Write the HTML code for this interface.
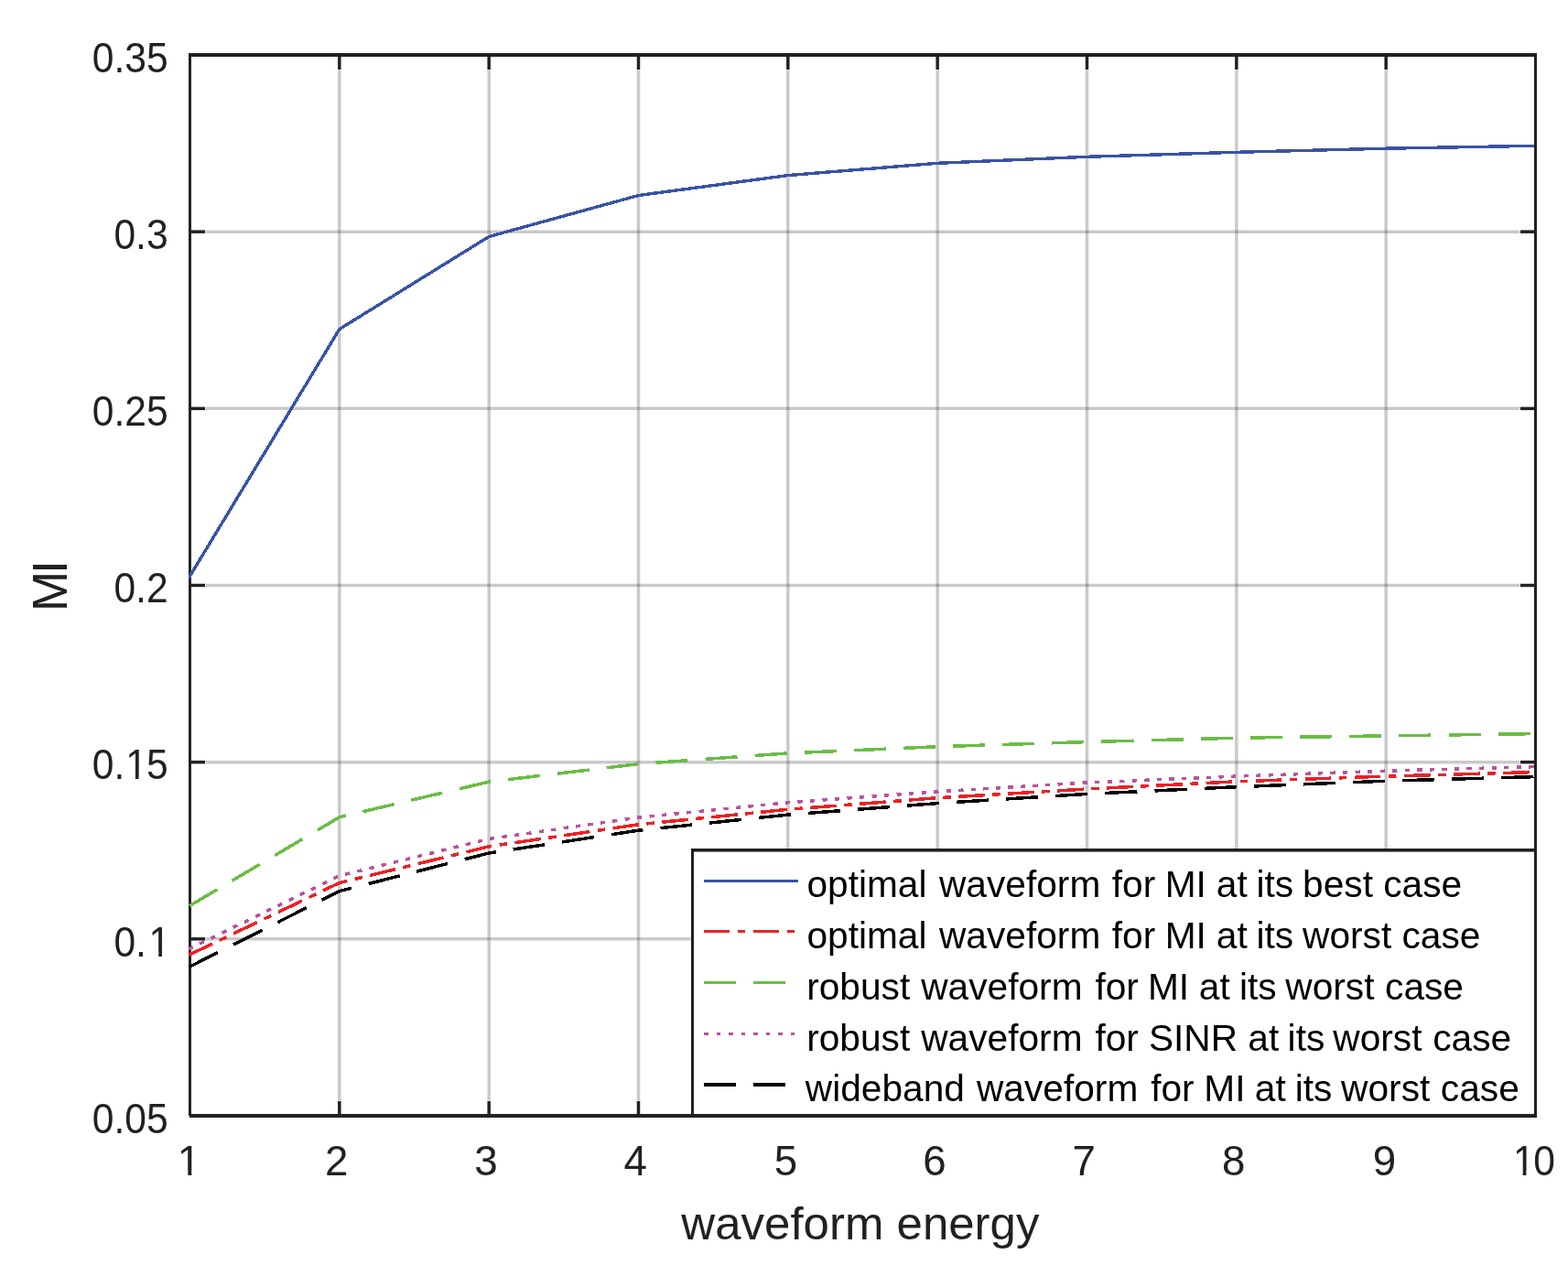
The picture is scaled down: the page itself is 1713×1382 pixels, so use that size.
<!DOCTYPE html>
<html lang="en"><head><meta charset="utf-8"><title>MI versus waveform energy</title>
<style>
html,body{margin:0;padding:0;background:#fff;}
body{width:1713px;height:1382px;overflow:hidden;}
svg{display:block;}
text{font-family:"Liberation Sans", Arial, Helvetica, sans-serif;}
.tick{font-size:45.7px;fill:#232021;}
.lab{font-size:50.2px;fill:#232021;}
.leg{font-size:40.66px;fill:#000;}
</style></head><body>
<svg width="1713" height="1382" viewBox="0 0 1713 1382">
<rect x="0" y="0" width="1713" height="1382" fill="#ffffff"/>
<g stroke="#231f20" stroke-opacity="0.235" stroke-width="3.5" fill="none">
<line x1="370.83" y1="76.5" x2="370.83" y2="1202.5"/>
<line x1="534.17" y1="76.5" x2="534.17" y2="1202.5"/>
<line x1="697.50" y1="76.5" x2="697.50" y2="1202.5"/>
<line x1="860.83" y1="76.5" x2="860.83" y2="1202.5"/>
<line x1="1024.17" y1="76.5" x2="1024.17" y2="1202.5"/>
<line x1="1187.50" y1="76.5" x2="1187.50" y2="1202.5"/>
<line x1="1350.83" y1="76.5" x2="1350.83" y2="1202.5"/>
<line x1="1514.17" y1="76.5" x2="1514.17" y2="1202.5"/>
<line x1="224.5" y1="1025.83" x2="1660.5" y2="1025.83"/>
<line x1="224.5" y1="832.67" x2="1660.5" y2="832.67"/>
<line x1="224.5" y1="639.50" x2="1660.5" y2="639.50"/>
<line x1="224.5" y1="446.33" x2="1660.5" y2="446.33"/>
<line x1="224.5" y1="253.17" x2="1660.5" y2="253.17"/>
</g>
<g fill="#232021" stroke="none">
<rect x="206" y="58" width="3" height="1161"/>
<rect x="1676" y="58" width="3" height="1163"/>
<rect x="206" y="58" width="1473" height="4"/>
<rect x="207" y="1217" width="1472" height="4"/>
</g>
<g stroke="#232021" stroke-width="3.5" fill="none">
<line x1="370.83" y1="1218" x2="370.83" y2="1203"/>
<line x1="370.83" y1="61" x2="370.83" y2="76"/>
<line x1="534.17" y1="1218" x2="534.17" y2="1203"/>
<line x1="534.17" y1="61" x2="534.17" y2="76"/>
<line x1="697.50" y1="1218" x2="697.50" y2="1203"/>
<line x1="697.50" y1="61" x2="697.50" y2="76"/>
<line x1="860.83" y1="1218" x2="860.83" y2="1203"/>
<line x1="860.83" y1="61" x2="860.83" y2="76"/>
<line x1="1024.17" y1="1218" x2="1024.17" y2="1203"/>
<line x1="1024.17" y1="61" x2="1024.17" y2="76"/>
<line x1="1187.50" y1="1218" x2="1187.50" y2="1203"/>
<line x1="1187.50" y1="61" x2="1187.50" y2="76"/>
<line x1="1350.83" y1="1218" x2="1350.83" y2="1203"/>
<line x1="1350.83" y1="61" x2="1350.83" y2="76"/>
<line x1="1514.17" y1="1218" x2="1514.17" y2="1203"/>
<line x1="1514.17" y1="61" x2="1514.17" y2="76"/>
</g>
<g stroke="#232021" stroke-width="3.5" fill="none">
<line x1="208" y1="1025.83" x2="224" y2="1025.83"/>
<line x1="1677" y1="1025.83" x2="1661" y2="1025.83"/>
<line x1="208" y1="832.67" x2="224" y2="832.67"/>
<line x1="1677" y1="832.67" x2="1661" y2="832.67"/>
<line x1="208" y1="639.50" x2="224" y2="639.50"/>
<line x1="1677" y1="639.50" x2="1661" y2="639.50"/>
<line x1="208" y1="446.33" x2="224" y2="446.33"/>
<line x1="1677" y1="446.33" x2="1661" y2="446.33"/>
<line x1="208" y1="253.17" x2="224" y2="253.17"/>
<line x1="1677" y1="253.17" x2="1661" y2="253.17"/>
</g>
<clipPath id="cp"><rect x="206" y="58" width="1470" height="1163"/></clipPath>
<g fill="none" stroke-linejoin="round" shape-rendering="crispEdges" clip-path="url(#cp)">
<polyline stroke="#3953a4" stroke-width="3.4" points="206.00,631.78 370.83,359.60 534.17,258.50 697.50,213.50 860.83,191.60 1024.17,178.30 1187.50,171.30 1350.83,166.30 1514.17,162.20 1679.00,159.27"/>
<polyline stroke="#ed2024" stroke-width="3.5" stroke-dasharray="28.6 8.52 8.52 8.52" stroke-dashoffset="-0.4" points="206.00,1043.52 370.83,964.50 534.17,924.80 697.50,900.80 860.83,884.30 1024.17,871.70 1187.50,862.00 1350.83,853.80 1514.17,848.10 1679.00,843.46"/>
<polyline stroke="#6abd45" stroke-width="3.5" stroke-dasharray="35.1 19.07" stroke-dashoffset="-1.2" points="206.00,990.29 370.83,892.80 534.17,854.10 697.50,834.60 860.83,822.90 1024.17,815.70 1187.50,810.60 1350.83,806.20 1514.17,803.90 1679.00,801.58"/>
<polyline stroke="#b9529f" stroke-width="3.5" stroke-dasharray="5.3 8.256" points="206.00,1037.03 370.83,956.80 534.17,916.50 697.50,893.10 860.83,876.80 1024.17,864.80 1187.50,855.00 1350.83,848.10 1514.17,842.20 1679.00,837.56"/>
<polyline stroke="#000000" stroke-width="3.5" stroke-dasharray="35.1 19.07" stroke-dashoffset="-0.75" points="206.00,1056.76 370.83,973.60 534.17,932.00 697.50,907.20 860.83,890.10 1024.17,877.60 1187.50,867.40 1350.83,859.70 1514.17,853.20 1679.00,848.56"/>
</g>
<text class="tick" transform="translate(100.79,1237.80) scale(0.931,1)">0.05</text>
<text class="tick" transform="translate(124.45,1044.63) scale(0.931,1)" dx="0.00 0.00 2.79">0.1</text>
<text class="tick" transform="translate(100.79,851.47) scale(0.931,1)" dx="0.00 0.00 0.97 -0.97">0.15</text>
<text class="tick" transform="translate(124.45,658.30) scale(0.931,1)">0.2</text>
<text class="tick" transform="translate(100.79,465.13) scale(0.931,1)">0.25</text>
<text class="tick" transform="translate(124.45,271.97) scale(0.931,1)">0.3</text>
<text class="tick" transform="translate(100.79,78.80) scale(0.931,1)">0.35</text>
<text class="tick" transform="translate(193.79,1284.20) scale(1.0,1)">1</text>
<text class="tick" transform="translate(354.93,1284.20) scale(1.0,1)">2</text>
<text class="tick" transform="translate(518.26,1284.20) scale(1.0,1)">3</text>
<text class="tick" transform="translate(681.59,1284.20) scale(1.0,1)">4</text>
<text class="tick" transform="translate(845.73,1284.20) scale(1.0,1)">5</text>
<text class="tick" transform="translate(1008.26,1284.20) scale(1.0,1)">6</text>
<text class="tick" transform="translate(1171.59,1284.20) scale(1.0,1)">7</text>
<text class="tick" transform="translate(1334.93,1284.20) scale(1.0,1)">8</text>
<text class="tick" transform="translate(1499.76,1284.20) scale(1.0,1)">9</text>
<text class="tick" transform="translate(1652.90,1284.20) scale(0.934,1)" dx="0.00 -1.40">10</text>
<g fill="#fff" stroke="none"><rect x="164.29" y="1039.92" width="8.95" height="5.71"/><rect x="177.00" y="1039.92" width="8.93" height="5.71"/><rect x="138.93" y="846.75" width="8.95" height="5.71"/><rect x="151.63" y="846.75" width="8.93" height="5.71"/><rect x="195.67" y="1279.49" width="9.61" height="5.71"/><rect x="209.32" y="1279.49" width="9.45" height="5.71"/><rect x="1654.66" y="1279.49" width="8.98" height="5.71"/><rect x="1667.41" y="1279.49" width="8.95" height="5.71"/></g>
<text class="lab" transform="translate(939.9,1353.6) scale(1.016,1)" text-anchor="middle">waveform energy</text>
<text transform="translate(73,641.5) rotate(-90) scale(0.98,1)" text-anchor="middle" style="font-size:53.9px;letter-spacing:-2.8px;fill:#232021">MI</text>
<rect x="756.5" y="929" width="921" height="290" fill="#fff" stroke="none"/>
<g fill="#232021" stroke="none">
<rect x="755" y="927" width="3" height="292"/>
<rect x="755" y="927" width="922" height="3.6"/>
<rect x="1676" y="927" width="3" height="294"/>
<rect x="755" y="1217" width="924" height="4"/>
</g>
<line x1="769" y1="962.3" x2="872" y2="962.3" stroke="#3953a4" stroke-width="3" shape-rendering="crispEdges"/>
<text class="leg" x="880.6" y="980.2" dx="0.80 0 0 0 0 0 0 0 2.15 0 0 0 0 0 0 0 0 1.15 0 0 0 -0.80 0 0 -0.40 0 0 -1.50 0 0 0 -1.40 0 0 0 0 0.00 0 0 0">optimal waveform for MI at its best case</text>
<line x1="769" y1="1017.6" x2="872" y2="1017.6" stroke="#ed2024" stroke-width="3" stroke-dasharray="28 9 8 9" shape-rendering="crispEdges"/>
<text class="leg" x="880.6" y="1035.6" dx="0.80 0 0 0 0 0 0 0 2.15 0 0 0 0 0 0 0 0 1.15 0 0 0 -0.80 0 0 -0.40 0 0 -1.50 0 0 0 -1.40 0 0 0 0 0 0.00 0 0 0">optimal waveform for MI at its worst case</text>
<line x1="769" y1="1073.5" x2="872" y2="1073.5" stroke="#6abd45" stroke-width="3" stroke-dasharray="35 19" shape-rendering="crispEdges"/>
<text class="leg" x="880.6" y="1091.5" dx="0.60 0 0 0 0 0 0 0.70 0 0 0 0 0 0 0 0 2.60 0 0 0 -1.30 0 0 -0.50 0 0 -1.20 0 0 0 -1.60 0 0 0 0 0 0.35 0 0 0">robust waveform for MI at its worst case</text>
<line x1="769" y1="1129.4" x2="872" y2="1129.4" stroke="#b9529f" stroke-width="3" stroke-dasharray="4.5 9" shape-rendering="crispEdges"/>
<text class="leg" x="880.6" y="1147.5" dx="0.60 0 0 0 0 0 0 0.70 0 0 0 0 0 0 0 0 2.60 0 0 0 -0.30 0 0 0 0 0.00 0 0 -2.00 0 0 0 -2.30 0 0 0 0 0 0.45 0 0 0">robust waveform for SINR at its worst case</text>
<line x1="769" y1="1184.8" x2="872" y2="1184.8" stroke="#000000" stroke-width="4" stroke-dasharray="35 19" shape-rendering="crispEdges"/>
<text class="leg" x="880.6" y="1203.0" dx="-0.80 0 0 0 0 0 0 0 0 1.70 0 0 0 0 0 0 0 0 2.60 0 0 0 -0.60 0 0 -1.00 0 0 -1.30 0 0 0 -1.60 0 0 0 0 0 0.30 0 0 0">wideband waveform for MI at its worst case</text>
</svg></body></html>
